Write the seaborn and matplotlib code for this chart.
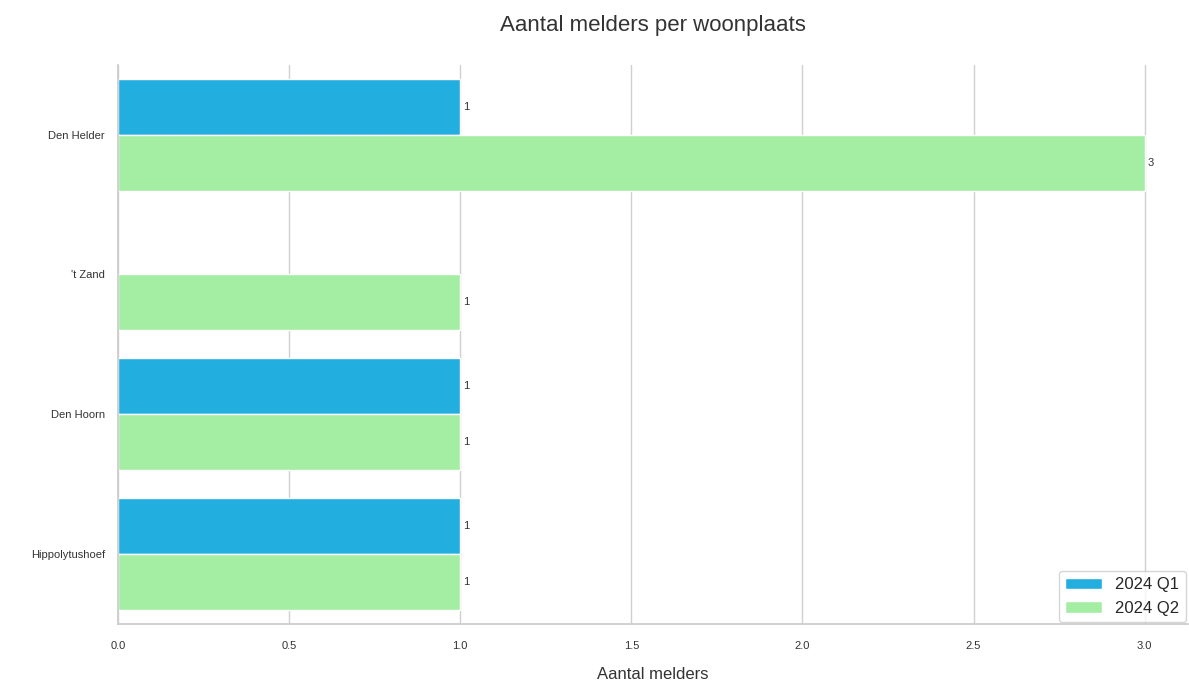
import matplotlib
matplotlib.use("Agg")
import matplotlib.pyplot as plt
import seaborn as sns
import pandas as pd
import numpy as np

places = ["Den Helder", "'t Zand", "Den Hoorn", "Hippolytushoef"]
q1_values = [1, np.nan, 1, 1]
q2_values = [3, 1, 1, 1]
series = ["2024 Q1", "2024 Q2"]
colors = ["#22AEDF", "#A3EEA3"]

rows = []
for p, v in zip(places, q1_values):
    rows.append({"Woonplaats": p, "Aantal": v, "Kwartaal": series[0]})
for p, v in zip(places, q2_values):
    rows.append({"Woonplaats": p, "Aantal": v, "Kwartaal": series[1]})
df = pd.DataFrame(rows)

sns.set_theme(style="whitegrid")
plt.rcParams["font.family"] = ["Liberation Sans", "DejaVu Sans"]

fig, ax = plt.subplots(figsize=(11.89, 6.88), dpi=100)
fig.subplots_adjust(left=0.0992, right=0.999, top=0.906, bottom=0.093)

sns.barplot(data=df, y="Woonplaats", x="Aantal", hue="Kwartaal", order=places,
            hue_order=series, palette=colors, orient="h", ax=ax,
            saturation=1, width=0.8, errorbar=None)

for cont in ax.containers:
    labels = ["" if (np.isnan(w) or w == 0) else f"{int(w)}" for w in cont.datavalues]
    ax.bar_label(cont, labels=labels, fontsize=8, padding=2, color="#333333")

ax.set_xlim(0, 3.126)
ax.set_xticks([0, 0.5, 1.0, 1.5, 2.0, 2.5, 3.0])
ax.tick_params(axis="both", labelsize=8, colors="#333333")
ax.tick_params(axis="x", pad=6)
ax.set_ylabel("")
ax.set_xlabel("Aantal melders", fontsize=12, color="#333333", labelpad=12)
ax.set_title("Aantal melders per woonplaats", fontsize=16, color="#333333", pad=24)
ax.yaxis.grid(False)
ax.xaxis.grid(True, color="#d0d0d0", linewidth=1)
sns.despine(ax=ax, top=True, right=True)
for s in ["left", "bottom"]:
    ax.spines[s].set_color("#cccccc")

leg = ax.legend(loc="lower right", fontsize=12, title=None, frameon=True,
                borderaxespad=0.1, handlelength=2.2)
leg.get_frame().set_edgecolor("#cccccc")

fig.savefig("out.png", dpi=100)
